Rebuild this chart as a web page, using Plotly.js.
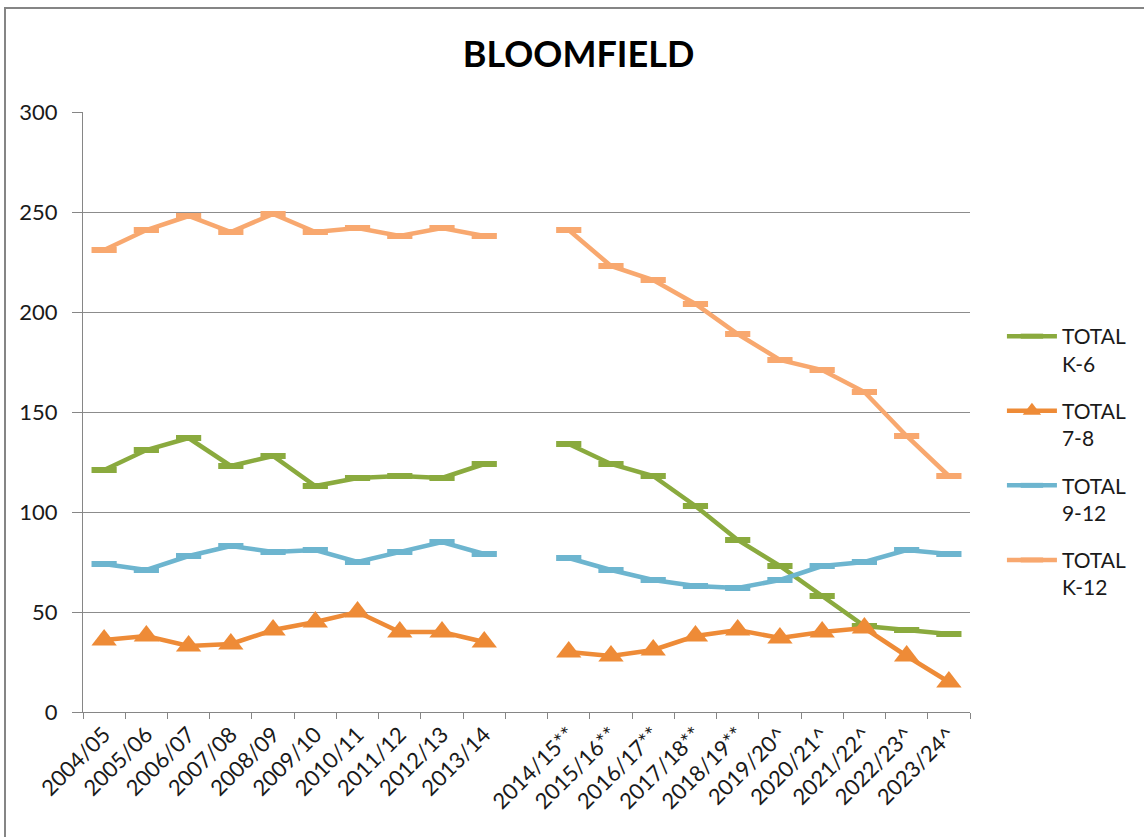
<!DOCTYPE html>
<html>
<head>
<meta charset="utf-8">
<script src="https://cdn.plot.ly/plotly-3.0.1.min.js"></script>
<style>
html,body{margin:0;padding:0;background:#fff;overflow:hidden;}
#chart{width:1144px;height:837px;}
#frame{position:absolute;left:4px;top:7px;width:1200px;height:900px;border-left:2px solid #858585;border-top:2px solid #858585;pointer-events:none;}
</style>
</head>
<body>
<div id="chart"></div>
<div id="frame"></div>
<script>
const categories = ["2004/05","2005/06","2006/07","2007/08","2008/09","2009/10","2010/11","2011/12","2012/13","2013/14"," ",
  "2014/15**","2015/16**","2016/17**","2017/18**","2018/19**","2019/20^","2020/21^","2021/22^","2022/23^","2023/24^"];
const totalK6  = [121,131,137,123,128,113,117,118,117,124,null,134,124,118,103,86,73,58,43,41,39];
const total78  = [36,38,33,34,41,45,50,40,40,35,null,30,28,31,38,41,37,40,42,28,15];
const total912 = [74,71,78,83,80,81,75,80,85,79,null,77,71,66,63,62,66,73,75,81,79];
const totalK12 = [231,241,248,240,249,240,242,238,242,238,null,241,223,216,204,189,176,171,160,138,118];
const seriesNames = ["TOTAL<br>K-6","TOTAL<br>7-8","TOTAL<br>9-12","TOTAL<br>K-12"];
const yTicks = [0,50,100,150,200,250,300];

const FONT = "Lato, 'Open Sans', sans-serif";
const dash = (c) => ({symbol:"line-ew", size:18, line:{color:c, width:6}, color:c});
const traces = [
  {x:categories, y:totalK6, name:seriesNames[0], legendgroup:"a", mode:"lines+markers", line:{color:"#8AAA3E", width:4.5}, marker:dash("#8AAA3E"), connectgaps:false},
  {x:categories, y:total78, name:seriesNames[1], legendgroup:"b", mode:"lines+markers", line:{color:"#EE8B37", width:4.5}, marker:{symbol:"triangle-up", size:22, color:"#EE8B37"}, connectgaps:false},
  {x:categories, y:total912, name:seriesNames[2], legendgroup:"c", mode:"lines+markers", line:{color:"#6DB5CF", width:4.5}, marker:dash("#6DB5CF"), connectgaps:false},
  {x:categories, y:totalK12, name:seriesNames[3], legendgroup:"d", mode:"lines+markers", line:{color:"#F8A86F", width:4.5}, marker:dash("#F8A86F"), connectgaps:false}
];
const layout = {
  width:1144, height:837,
  margin:{l:83, r:174, t:112, b:125},
  paper_bgcolor:"#fff", plot_bgcolor:"#fff",
  font:{family:FONT, size:21, color:"#1a1a1a"},
  title:{text:"<b>BLOOMFIELD</b>", x:0.5057, xanchor:"center", y:0.935, yanchor:"middle", font:{size:36, color:"#000", family:FONT}},
  showlegend:true,
  legend:{x:1.036, xanchor:"left", y:0.66, yanchor:"top", tracegroupgap:17, itemwidth:50, font:{size:21, color:"#1a1a1a"}, valign:"top", bgcolor:"rgba(0,0,0,0)"},
  xaxis:{type:"category", categoryarray:categories, tickmode:"array", tickvals:categories, ticktext:categories,
    range:[-0.5, 20.5],
    showgrid:false, showline:true, linecolor:"#868686", linewidth:1, ticks:"outside", tickson:"boundaries",
    ticklen:6, tickcolor:"#868686", tickangle:-45, tickfont:{size:22, color:"#1a1a1a"}, zeroline:false, fixedrange:true},
  yaxis:{range:[0,300], tickmode:"array", tickvals:yTicks, showgrid:true, gridcolor:"#8c8c8c", gridwidth:1,
    showline:true, linecolor:"#868686", ticks:"outside", ticklen:10, tickcolor:"#868686", ticklabelstandoff:10,
    tickfont:{size:22, color:"#1a1a1a"}, zeroline:false, fixedrange:true}
};
Plotly.newPlot("chart", traces, layout, {displayModeBar:false, staticPlot:true});
</script>
</body>
</html>
